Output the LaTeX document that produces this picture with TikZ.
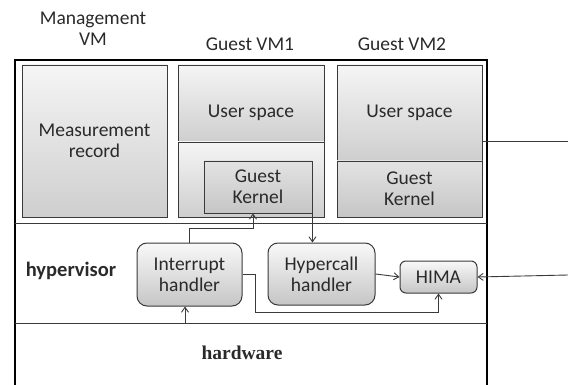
\documentclass[tikz,border=0pt]{standalone}
\usepackage{fontspec}
\setmainfont{Carlito}
\newfontfamily\hwfont{Liberation Serif}
\usetikzlibrary{arrows.meta,calc}
\definecolor{ink}{HTML}{3A3A3A}
\definecolor{txt}{HTML}{2A2A2A}
\tikzset{
  frameline/.style={draw=black,line width=1.6pt},
  layerline/.style={draw=ink,line width=1pt},
  panel/.style={draw=ink,line width=0.9pt,top color=gray!8,bottom color=gray!38,
    minimum width=#1, inner sep=0pt},
  kernpanel/.style={draw=ink,line width=0.9pt,top color=gray!22,bottom color=gray!45,
    inner sep=0pt},
  handler/.style={draw=ink,line width=1pt,rounded corners=10pt,top color=gray!5,
    bottom color=gray!45,inner sep=0pt,align=center,font=\fontsize{19.5}{21}\selectfont,text=txt},
  lbl/.style={align=center,font=\fontsize{19.5}{21}\selectfont,text=txt,inner sep=0pt},
  arr/.style={draw=ink,line width=0.9pt,-{Straight Barb[length=5pt,width=7pt]}},
  link/.style={draw=ink,line width=0.9pt},
}
\begin{document}
\begin{tikzpicture}[x=1pt,y=-1pt]
\useasboundingbox (0,0) rectangle (568,385);

% outer platform frame (open at the bottom edge)
\draw[frameline] (15,390) -- (15,60) -- (487,60) -- (487,390);
\draw[layerline] (15,223) -- (487,223);
\draw[layerline] (15,323) -- (487,323);

% column headings
\node[lbl] (hmgmt) at (93,29) {Management\\VM};
\node[lbl] (hvm1) at (250,44) {Guest VM1};
\node[lbl] (hvm2) at (402,44) {Guest VM2};

% management VM
\node[panel=145pt,minimum height=152pt] (mgmt) at (94.5,141) {};
\node[lbl] (mrec) at (94.5,141) {Measurement\\record};

% guest VM1
\node[panel=146pt,minimum height=152pt] (vm1) at (251,141) {};
\node[panel=146pt,minimum height=77pt] (vm1us) at (251,103.5) {};
\node[panel=146pt,minimum height=75pt] (vm1low) at (251,179.5) {};
\node[lbl] (us1) at (251,113) {User space};
\node[kernpanel,minimum width=108pt,minimum height=52pt] (gk1) at (258,187) {};
\node[lbl] (gk1t) at (258,187) {Guest\\Kernel};

% guest VM2
\node[panel=145pt,minimum height=152pt] (vm2) at (409.5,141) {};
\node[panel=145pt,minimum height=96pt] (vm2us) at (409.5,113) {};
\node[kernpanel,minimum width=145pt,minimum height=56pt] (vm2gk) at (409.5,189) {};
\node[lbl] (us2) at (409.5,113) {User space};
\node[lbl] (gk2t) at (409.5,189) {Guest\\Kernel};

% hypervisor and hardware layers
\node[lbl,font=\fontsize{20.5}{22}\selectfont\bfseries] (hyp) at (71,271) {hypervisor};
\node[lbl,font=\hwfont\fontsize{19.5}{22}\selectfont\bfseries] (hw) at (242,353) {hardware};

\node[handler,minimum width=105pt,minimum height=63pt] (ih) at (189.5,274.5) {Interrupt\\handler};
\node[handler,minimum width=107pt,minimum height=62pt] (hc) at (321.5,274) {Hypercall\\handler};
\node[handler,rounded corners=6pt,minimum width=77pt,minimum height=32pt] (hima) at (438.5,277) {HIMA};

% free ends of the connectors
\coordinate (hwpt) at (185,323);
\coordinate (bend) at (255,312);
\coordinate (edgeA) at (568,141);
\coordinate (edgeB) at (568,275);

% connectors
\draw[arr] (ih.north) -- ++(0,-14) -| ([xshift=-5pt]gk1.south);
\draw[arr] (gk1.south east) -- (gk1.south east |- hc.north);
\draw[arr] (hc.east) -- (hima.west);
\draw[arr] (ih.east) -| (bend) -| (hima.south);
\draw[arr] (hwpt) -- (hwpt |- ih.south);
\draw[link] (vm2.east) -- (edgeA);
\draw[arr] (edgeB) -- (hima.east);
\end{tikzpicture}
\end{document}
